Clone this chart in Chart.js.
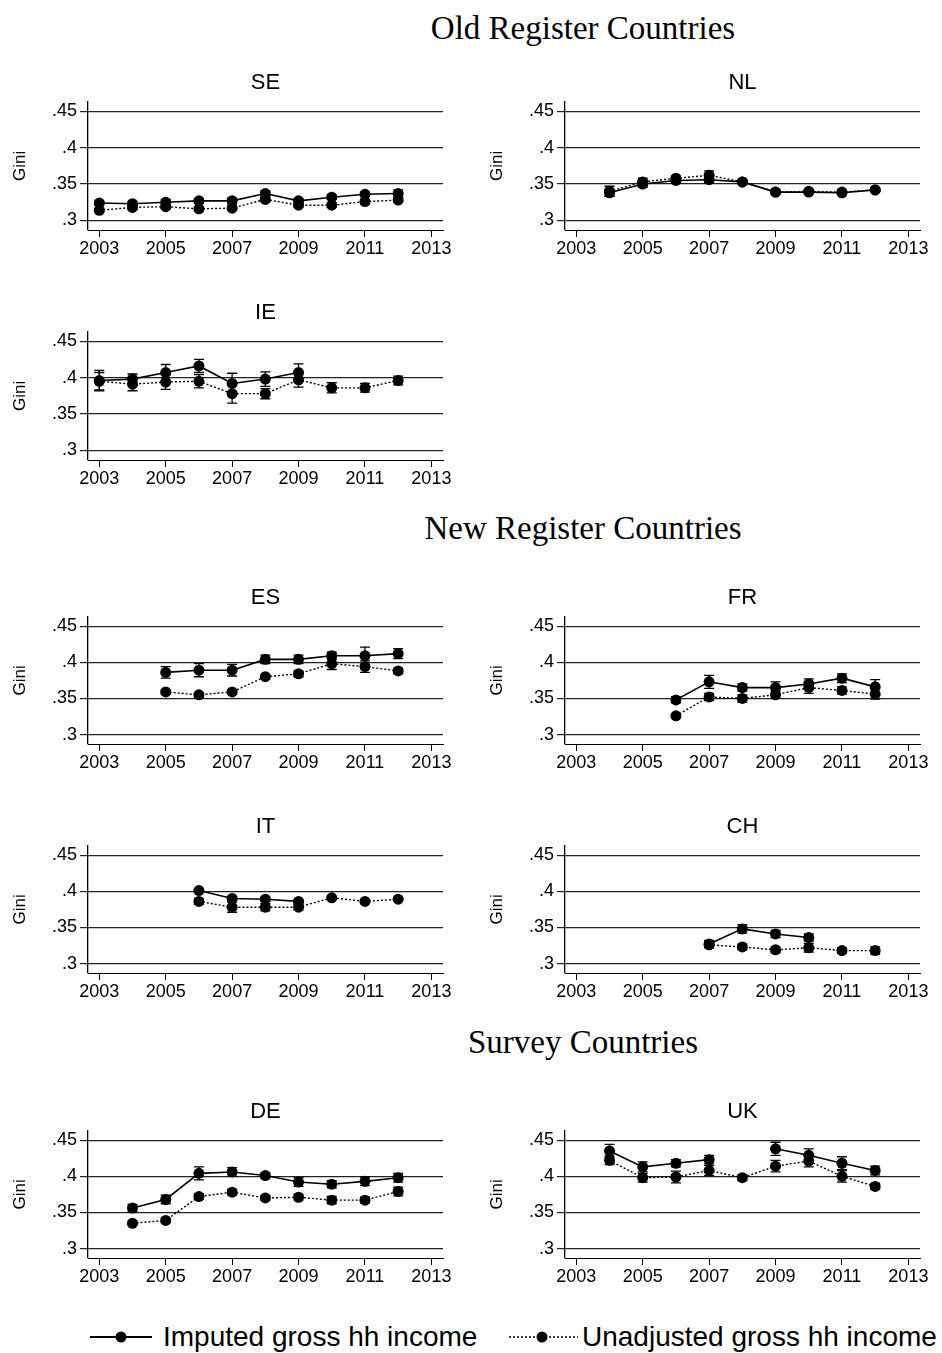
<!DOCTYPE html>
<html>
<head>
<meta charset="utf-8">
<script src="https://cdn.jsdelivr.net/npm/chart.js@4.4.0/dist/chart.umd.min.js"></script>
<style>
  body { margin: 0; background: #fff; }
  #page { position: relative; width: 942px; height: 1353px; overflow: hidden; background: #fff; }
  canvas { position: absolute; }
  .seccion { position: absolute; left: 283px; width: 600px; text-align: center;
    font-family: 'Liberation Serif', 'Times New Roman', serif; font-size: 33px; line-height: 40px; color: #000; }
  .leyenda { position: absolute; font-family: 'Liberation Sans', Arial, sans-serif; font-size: 28px;
    line-height: 32px; color: #000; white-space: nowrap; }
  .leyenda svg { position: absolute; }
</style>
</head>
<body>
<div id="page">
  <div class="seccion" style="top:8px">Old Register Countries</div>
  <div class="seccion" style="top:508px">New Register Countries</div>
  <div class="seccion" style="top:1022px">Survey Countries</div>

  <canvas id="SE"></canvas>
  <canvas id="NL"></canvas>
  <canvas id="IE"></canvas>
  <canvas id="ES"></canvas>
  <canvas id="FR"></canvas>
  <canvas id="IT"></canvas>
  <canvas id="CH"></canvas>
  <canvas id="DE"></canvas>
  <canvas id="UK"></canvas>

  <div class="leyenda" style="left:90px; top:1321px; width:400px; height:32px">
    <svg width="64" height="32" style="left:0; top:0">
      <line x1="0" y1="16" x2="62" y2="16" stroke="#000" stroke-width="2"/>
      <circle cx="31" cy="16" r="5.5" fill="#000"/>
    </svg>
    <span style="position:absolute; left:73px; top:0">Imputed gross hh income</span>
  </div>
  <div class="leyenda" style="left:509px; top:1321px; width:433px; height:32px">
    <svg width="70" height="32" style="left:0; top:0">
      <line x1="0" y1="16" x2="69" y2="16" stroke="#000" stroke-width="1.5" stroke-dasharray="2,2"/>
      <circle cx="33" cy="16" r="5.5" fill="#000"/>
    </svg>
    <span style="position:absolute; left:73px; top:0">Unadjusted gross hh income</span>
  </div>
</div>

<script>
// anios 2003..2012, null = sin dato
const years = [2003, 2004, 2005, 2006, 2007, 2008, 2009, 2010, 2011, 2012];
const xTicks = [2003, 2005, 2007, 2009, 2011, 2013];
const yTicks = [0.3, 0.35, 0.4, 0.45];
const yTickLabels = ['.3', '.35', '.4', '.45'];

const seImp      = [0.324, 0.323, 0.325, 0.327, 0.327, 0.337, 0.327, 0.332, 0.336, 0.337];
const seImpErr   = [0.003, 0.003, 0.004, 0.003, 0.004, 0.004, 0.003, 0.003, 0.003, 0.005];
const seUnadj    = [0.314, 0.318, 0.319, 0.316, 0.317, 0.329, 0.321, 0.321, 0.326, 0.328];
const seUnadjErr = [0.003, 0.003, 0.003, 0.003, 0.003, 0.003, 0.003, 0.003, 0.003, 0.003];

const nlImp      = [null, 0.338, 0.350, 0.355, 0.356, 0.353, 0.339, 0.339, 0.338, 0.342];
const nlImpErr   = [null, 0.005, 0.004, 0.003, 0.004, 0.002, 0.002, 0.002, 0.002, 0.002];
const nlUnadj    = [null, 0.340, 0.353, 0.358, 0.362, 0.353, 0.339, 0.340, 0.339, 0.342];
const nlUnadjErr = [null, 0.007, 0.005, 0.003, 0.006, 0.002, 0.002, 0.002, 0.002, 0.002];

const ieImp      = [0.396, 0.398, 0.407, 0.416, 0.392, 0.398, 0.407, null, null, null];
const ieImpErr   = [0.014, 0.007, 0.011, 0.009, 0.014, 0.010, 0.012, null, null, null];
const ieUnadj    = [0.395, 0.391, 0.394, 0.395, 0.378, 0.378, 0.397, 0.386, 0.386, 0.396];
const ieUnadjErr = [0.012, 0.009, 0.010, 0.009, 0.013, 0.007, 0.010, 0.007, 0.006, 0.006];

const esImp      = [null, null, 0.386, 0.389, 0.389, 0.404, 0.404, 0.409, 0.409, 0.412];
const esImpErr   = [null, null, 0.008, 0.009, 0.008, 0.006, 0.006, 0.005, 0.012, 0.007];
const esUnadj    = [null, null, 0.359, 0.355, 0.359, 0.380, 0.384, 0.398, 0.394, 0.388];
const esUnadjErr = [null, null, 0.003, 0.003, 0.003, 0.003, 0.004, 0.008, 0.008, 0.004];

const frImp      = [null, null, null, 0.348, 0.373, 0.365, 0.365, 0.370, 0.378, 0.366];
const frImpErr   = [null, null, null, 0.004, 0.009, 0.005, 0.008, 0.007, 0.006, 0.010];
const frUnadj    = [null, null, null, 0.326, 0.352, 0.350, 0.355, 0.365, 0.361, 0.356];
const frUnadjErr = [null, null, null, 0.003, 0.005, 0.005, 0.005, 0.008, 0.005, 0.007];

const itImp      = [null, null, null, 0.401, 0.390, 0.389, 0.386, null, null, null];
const itImpErr   = [null, null, null, 0.002, 0.003, 0.003, 0.002, null, null, null];
const itUnadj    = [null, null, null, 0.386, 0.378, 0.378, 0.378, 0.391, 0.386, 0.389];
const itUnadjErr = [null, null, null, 0.004, 0.007, 0.005, 0.004, 0.002, 0.002, 0.002];

const chImp      = [null, null, null, null, 0.327, 0.348, 0.341, 0.336, null, null];
const chImpErr   = [null, null, null, null, 0.005, 0.006, 0.005, 0.005, null, null];
const chUnadj    = [null, null, null, null, 0.326, 0.323, 0.319, 0.322, 0.318, 0.318];
const chUnadjErr = [null, null, null, null, 0.004, 0.004, 0.004, 0.006, 0.004, 0.005];

const deImp      = [null, 0.356, 0.368, 0.404, 0.406, 0.401, 0.392, 0.389, 0.393, 0.398];
const deImpErr   = [null, 0.005, 0.006, 0.009, 0.006, 0.004, 0.006, 0.005, 0.006, 0.006];
const deUnadj    = [null, 0.335, 0.339, 0.372, 0.378, 0.370, 0.371, 0.367, 0.367, 0.379];
const deUnadjErr = [null, 0.003, 0.003, 0.004, 0.004, 0.003, 0.004, 0.005, 0.004, 0.006];

const ukImp      = [null, 0.435, 0.413, 0.418, 0.423, null, 0.438, 0.429, 0.418, 0.408];
const ukImpErr   = [null, 0.009, 0.007, 0.005, 0.006, null, 0.009, 0.009, 0.009, 0.006];
const ukUnadj    = [null, 0.422, 0.398, 0.399, 0.408, 0.398, 0.414, 0.421, 0.400, 0.386];
const ukUnadjErr = [null, 0.006, 0.006, 0.008, 0.007, 0.004, 0.008, 0.008, 0.008, 0.004];

const FUENTE = "'Liberation Sans', Arial, sans-serif";

// barras de error (rcap) dibujadas con las escalas del grafico
const barrasError = {
  id: 'barrasError',
  afterDatasetsDraw(chart) {
    const ctx = chart.ctx;
    const x = chart.scales.x, y = chart.scales.y;
    ctx.save();
    ctx.strokeStyle = '#000';
    ctx.lineWidth = 1.3;
    ctx.setLineDash([]);
    chart.data.datasets.forEach(ds => {
      ds.data.forEach((p, i) => {
        const e = ds.errs[i];
        if (p.y == null || e == null) return;
        const px = x.getPixelForValue(p.x);
        const lo = y.getPixelForValue(p.y - e);
        const hi = y.getPixelForValue(p.y + e);
        ctx.beginPath();
        ctx.moveTo(px, lo); ctx.lineTo(px, hi);
        ctx.moveTo(px - 5, lo); ctx.lineTo(px + 5, lo);
        ctx.moveTo(px - 5, hi); ctx.lineTo(px + 5, hi);
        ctx.stroke();
      });
    });
    ctx.restore();
  }
};

function puntos(vals) {
  return years.map((yr, i) => ({ x: yr, y: vals[i] }));
}

// izquierda: true = columna izquierda; top/bottom = area del grafico en px
function grafico(id, izquierda, top, bottom, imp, impErr, unadj, unadjErr) {
  const canvas = document.getElementById(id);
  const left = izquierda ? 0 : 477;
  const width = izquierda ? 470 : 465;
  const padRight = izquierda ? 27 : 22;
  const cTop = top - 31.7;
  const height = bottom + 30 - cTop;
  canvas.style.left = left + 'px';
  canvas.style.top = cTop + 'px';
  canvas.width = width;
  canvas.height = Math.round(height);

  new Chart(canvas, {
    type: 'line',
    data: {
      datasets: [{
        label: 'Imputed gross hh income',
        data: puntos(imp),
        errs: impErr,
        borderColor: '#000',
        backgroundColor: '#000',
        borderWidth: 1.6,
        pointRadius: 5.5,
        pointBorderWidth: 0,
        spanGaps: false
      }, {
        label: 'Unadjusted gross hh income',
        data: puntos(unadj),
        errs: unadjErr,
        borderColor: '#000',
        backgroundColor: '#000',
        borderWidth: 1.4,
        borderDash: [2, 2],
        pointRadius: 5.5,
        pointBorderWidth: 0,
        spanGaps: false
      }]
    },
    options: {
      responsive: false,
      animation: false,
      devicePixelRatio: 1,
      layout: { padding: { left: 0, right: padRight, top: 0, bottom: 0 } },
      plugins: {
        legend: { display: false },
        tooltip: { enabled: false },
        title: {
          display: true,
          fullSize: false,
          text: id,
          color: '#000',
          font: { family: FUENTE, size: 22, weight: 'normal', lineHeight: 1.2 },
          padding: { top: 0, bottom: 5.3 }
        }
      },
      scales: {
        x: {
          type: 'linear',
          min: 2002.66,
          max: 2013.35,
          afterBuildTicks: s => { s.ticks = xTicks.map(v => ({ value: v })); },
          afterFit: s => { s.height = 30; },
          grid: { drawOnChartArea: false, drawTicks: true, tickLength: 7, color: '#000', lineWidth: 1 },
          border: { display: true, color: '#000', width: 1 },
          ticks: {
            color: '#000',
            font: { family: FUENTE, size: 18 },
            padding: 1,
            maxRotation: 0,
            autoSkip: false,
            callback: v => String(v)
          }
        },
        y: {
          min: 0.287,
          max: 0.463,
          afterBuildTicks: s => { s.ticks = yTicks.map(v => ({ value: v })); },
          afterFit: s => { s.width = 88; },
          grid: { color: '#222', lineWidth: 1.2, drawTicks: true, tickLength: 8 },
          border: { display: true, color: '#000', width: 1.3 },
          ticks: {
            color: '#000',
            font: { family: FUENTE, size: 18 },
            padding: 3,
            callback: v => yTickLabels[yTicks.findIndex(t => Math.abs(t - v) < 1e-9)]
          },
          title: {
            display: true,
            text: 'Gini',
            color: '#000',
            font: { family: FUENTE, size: 17 },
            padding: { top: 10, bottom: 0 }
          }
        }
      }
    },
    plugins: [barrasError]
  });
}

window.onload = inicio;

function inicio() {
  grafico('SE', true, 102, 230, seImp, seImpErr, seUnadj, seUnadjErr);
  grafico('NL', false, 102, 230, nlImp, nlImpErr, nlUnadj, nlUnadjErr);
  grafico('IE', true, 331.5, 460, ieImp, ieImpErr, ieUnadj, ieUnadjErr);
  grafico('ES', true, 616.7, 744, esImp, esImpErr, esUnadj, esUnadjErr);
  grafico('FR', false, 616.7, 744, frImp, frImpErr, frUnadj, frUnadjErr);
  grafico('IT', true, 846, 973.3, itImp, itImpErr, itUnadj, itUnadjErr);
  grafico('CH', false, 846, 973.3, chImp, chImpErr, chUnadj, chUnadjErr);
  grafico('DE', true, 1131, 1258, deImp, deImpErr, deUnadj, deUnadjErr);
  grafico('UK', false, 1131, 1258, ukImp, ukImpErr, ukUnadj, ukUnadjErr);
}
</script>
</body>
</html>
